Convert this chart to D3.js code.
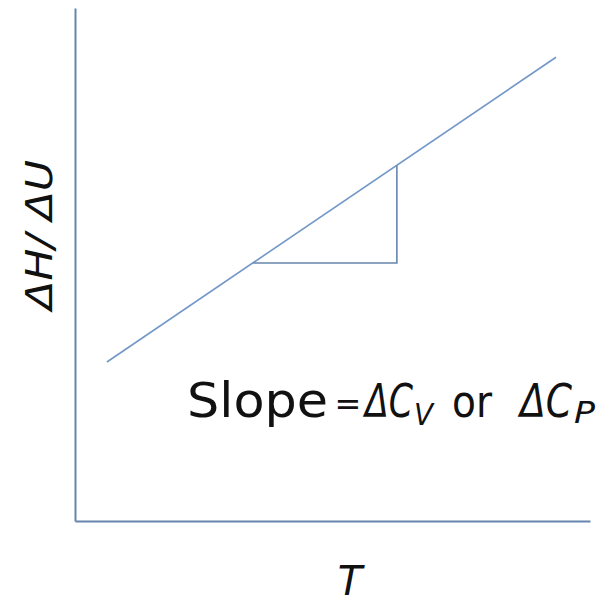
<!DOCTYPE html>
<html>
<head>
<meta charset="utf-8">
<script src="https://cdn.jsdelivr.net/npm/d3@7/dist/d3.min.js"></script>
<style>
  html, body { margin: 0; padding: 0; background: #fff; }
  svg { display: block; }
</style>
</head>
<body>
<script>
// Enthalpy / internal energy change against temperature
const lineT = [0.62, 9.34];
const lineH = [3.10, 9.04];
// Slope triangle under the line (run then rise)
const triT = [3.46, 6.25, 6.25];
const triH = [5.03, 5.03, 6.93];

const xLabel = "T";
const yLabel = "\u0394H/ \u0394U";

const W = 611, H = 599;
const margin = { left: 75, right: 21, top: 8, bottom: 78 };

const svg = d3.select("body").append("svg")
  .attr("width", W).attr("height", H);

const x = d3.scaleLinear().domain([0, 10]).range([margin.left, W - margin.right]);
const y = d3.scaleLinear().domain([0, 10]).range([H - margin.bottom, margin.top]);

const axisColor = "#6785ad";
const lineColor = "#7297c8";

const gx = svg.append("g")
  .attr("transform", `translate(0,${y(0)})`)
  .call(d3.axisBottom(x).tickValues([]).tickSizeOuter(0));
const gy = svg.append("g")
  .attr("transform", `translate(${x(0)},0)`)
  .call(d3.axisLeft(y).tickValues([]).tickSizeOuter(0));
[gx, gy].forEach(g => g.select(".domain")
  .attr("stroke", axisColor).attr("stroke-width", 2));

svg.append("path")
  .datum(d3.zip(lineT, lineH))
  .attr("fill", "none")
  .attr("stroke", lineColor)
  .attr("stroke-width", 1.6)
  .attr("d", d3.line().x(d => x(d[0])).y(d => y(d[1])));

svg.append("path")
  .datum(d3.zip(triT, triH))
  .attr("fill", "none")
  .attr("stroke", axisColor)
  .attr("stroke-width", 1.6)
  .attr("d", d3.line().x(d => x(d[0])).y(d => y(d[1])));

const font = "'DejaVu Sans', sans-serif";
const ink = "#111";

// Slope annotation, one fitted text per piece
const pieces = [
  { s: "Slope",   x: 187, w: 141, b: 417, size: 48, it: false },
  { s: "\u0394C", x: 365, w: 48,  b: 417, size: 47, it: true },
  { s: "V",       x: 414, w: 19,  b: 425, size: 30, it: true },
  { s: "or",      x: 452, w: 40,  b: 417, size: 44, it: false },
  { s: "\u0394C", x: 520, w: 52,  b: 417, size: 47, it: true },
  { s: "P",       x: 574, w: 21,  b: 423, size: 30, it: true }
];
svg.append("g").selectAll("text")
  .data(pieces)
  .join("text")
  .attr("x", d => d.x)
  .attr("y", d => d.b)
  .attr("textLength", d => d.w)
  .attr("lengthAdjust", "spacingAndGlyphs")
  .attr("font-family", font)
  .attr("font-size", d => d.size)
  .attr("font-style", d => d.it ? "italic" : "normal")
  .attr("fill", ink)
  .text(d => d.s);

svg.append("text")
  .attr("x", 348).attr("y", 415)
  .attr("text-anchor", "middle")
  .attr("font-family", font).attr("font-size", 32)
  .attr("fill", ink).text("=");

// Axis titles
svg.append("text")
  .attr("transform", `translate(52,235) rotate(-90)`)
  .attr("text-anchor", "middle")
  .attr("font-family", font)
  .attr("font-style", "italic")
  .attr("font-size", 37)
  .attr("textLength", 150)
  .attr("lengthAdjust", "spacingAndGlyphs")
  .attr("fill", ink)
  .text(yLabel);

svg.append("text")
  .attr("x", 350).attr("y", 595)
  .attr("text-anchor", "middle")
  .attr("font-family", font)
  .attr("font-style", "italic")
  .attr("font-size", 40)
  .attr("fill", ink)
  .text(xLabel);
</script>
</body>
</html>
